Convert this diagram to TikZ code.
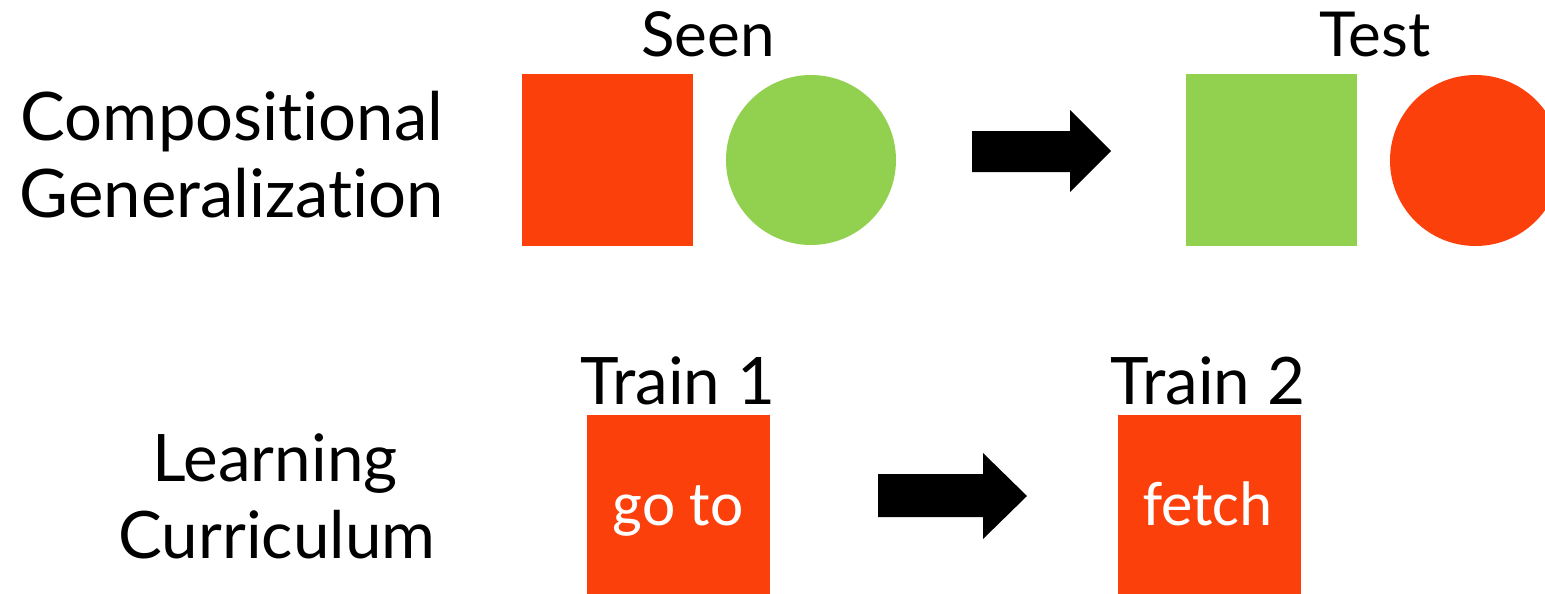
\documentclass[tikz,border=0pt]{standalone}
\usepackage{fontspec}
\setmainfont{Lato}[Ligatures=NoCommon]
\newfontfamily\boxfont{Carlito}
\usepackage{xcolor}
\usepackage{tikz}
\usetikzlibrary{positioning}

\definecolor{tomato}{RGB}{252,64,12}
\definecolor{leaf}{RGB}{146,208,80}

\tikzset{
  sq/.style={rectangle, inner sep=0pt, minimum size=#1},
  dot/.style={circle, inner sep=0pt, minimum size=#1},
  rowlabel/.style={anchor=base, inner sep=0pt, font=\fontsize{#1}{#1}\selectfont},
  caption/.style={anchor=base, inner sep=0pt, font=\fontsize{#1}{#1}\selectfont},
  boxtext/.style={anchor=base, inner sep=0pt, text=white, font=\boxfont\fontsize{63}{63}\selectfont},
}

\begin{document}
\begin{tikzpicture}[x=1pt, y=-1pt]
      \clip (0,0) rectangle (1545,594);
      \fill[white] (0,0) rectangle (1545,594);

      % Row labels
      \node[rowlabel=67] (comp1) at (232,140) {Compositional};
      \node[rowlabel=67] (comp2) at (232,217) {Generalization};
      \node[rowlabel=65.5] (learn1) at (275,481) {Learning};
      \node[rowlabel=65.5] (learn2) at (277,558) {Curriculum};

      % Seen pair
      \node[sq=171pt, fill=tomato] (seenSq) at (607.5,160) {};
      \node[dot=170pt, fill=leaf] (seenDot) at (811,160) {};
      \node[caption=62] (seen) at (708,57) {Seen};

      % Test pair
      \node[sq=171pt, fill=leaf] (testSq) at (1271.5,160) {};
      \node[dot=171pt, fill=tomato] (testDot) at (1475.5,160.5) {};
      \node[caption=62] (test) at (1375,57) {Test};

      % Curriculum boxes
      \node[sq=183pt, fill=tomato] (goSq) at (678.5,506.5) {};
      \node[boxtext] (go) at (678,525) {go to};
      \node[caption=65.5] (train1) at (678,404) {Train 1};

      \node[sq=183pt, fill=tomato] (fetchSq) at (1209.5,506.5) {};
      \node[boxtext] (fetch) at (1208,525) {fetch};
      \node[caption=65.5] (train2) at (1208,404) {Train 2};

      % Block arrows
      \fill[black] (972,131) -- (1070,131) -- (1070,110) -- (1111,151)
                   -- (1070,192) -- (1070,172) -- (972,172) -- cycle;
      \fill[black] (878,474) -- (983,474) -- (983,453) -- (1027,496)
                   -- (983,539) -- (983,517) -- (878,517) -- cycle;
    \end{tikzpicture}
\end{document}
